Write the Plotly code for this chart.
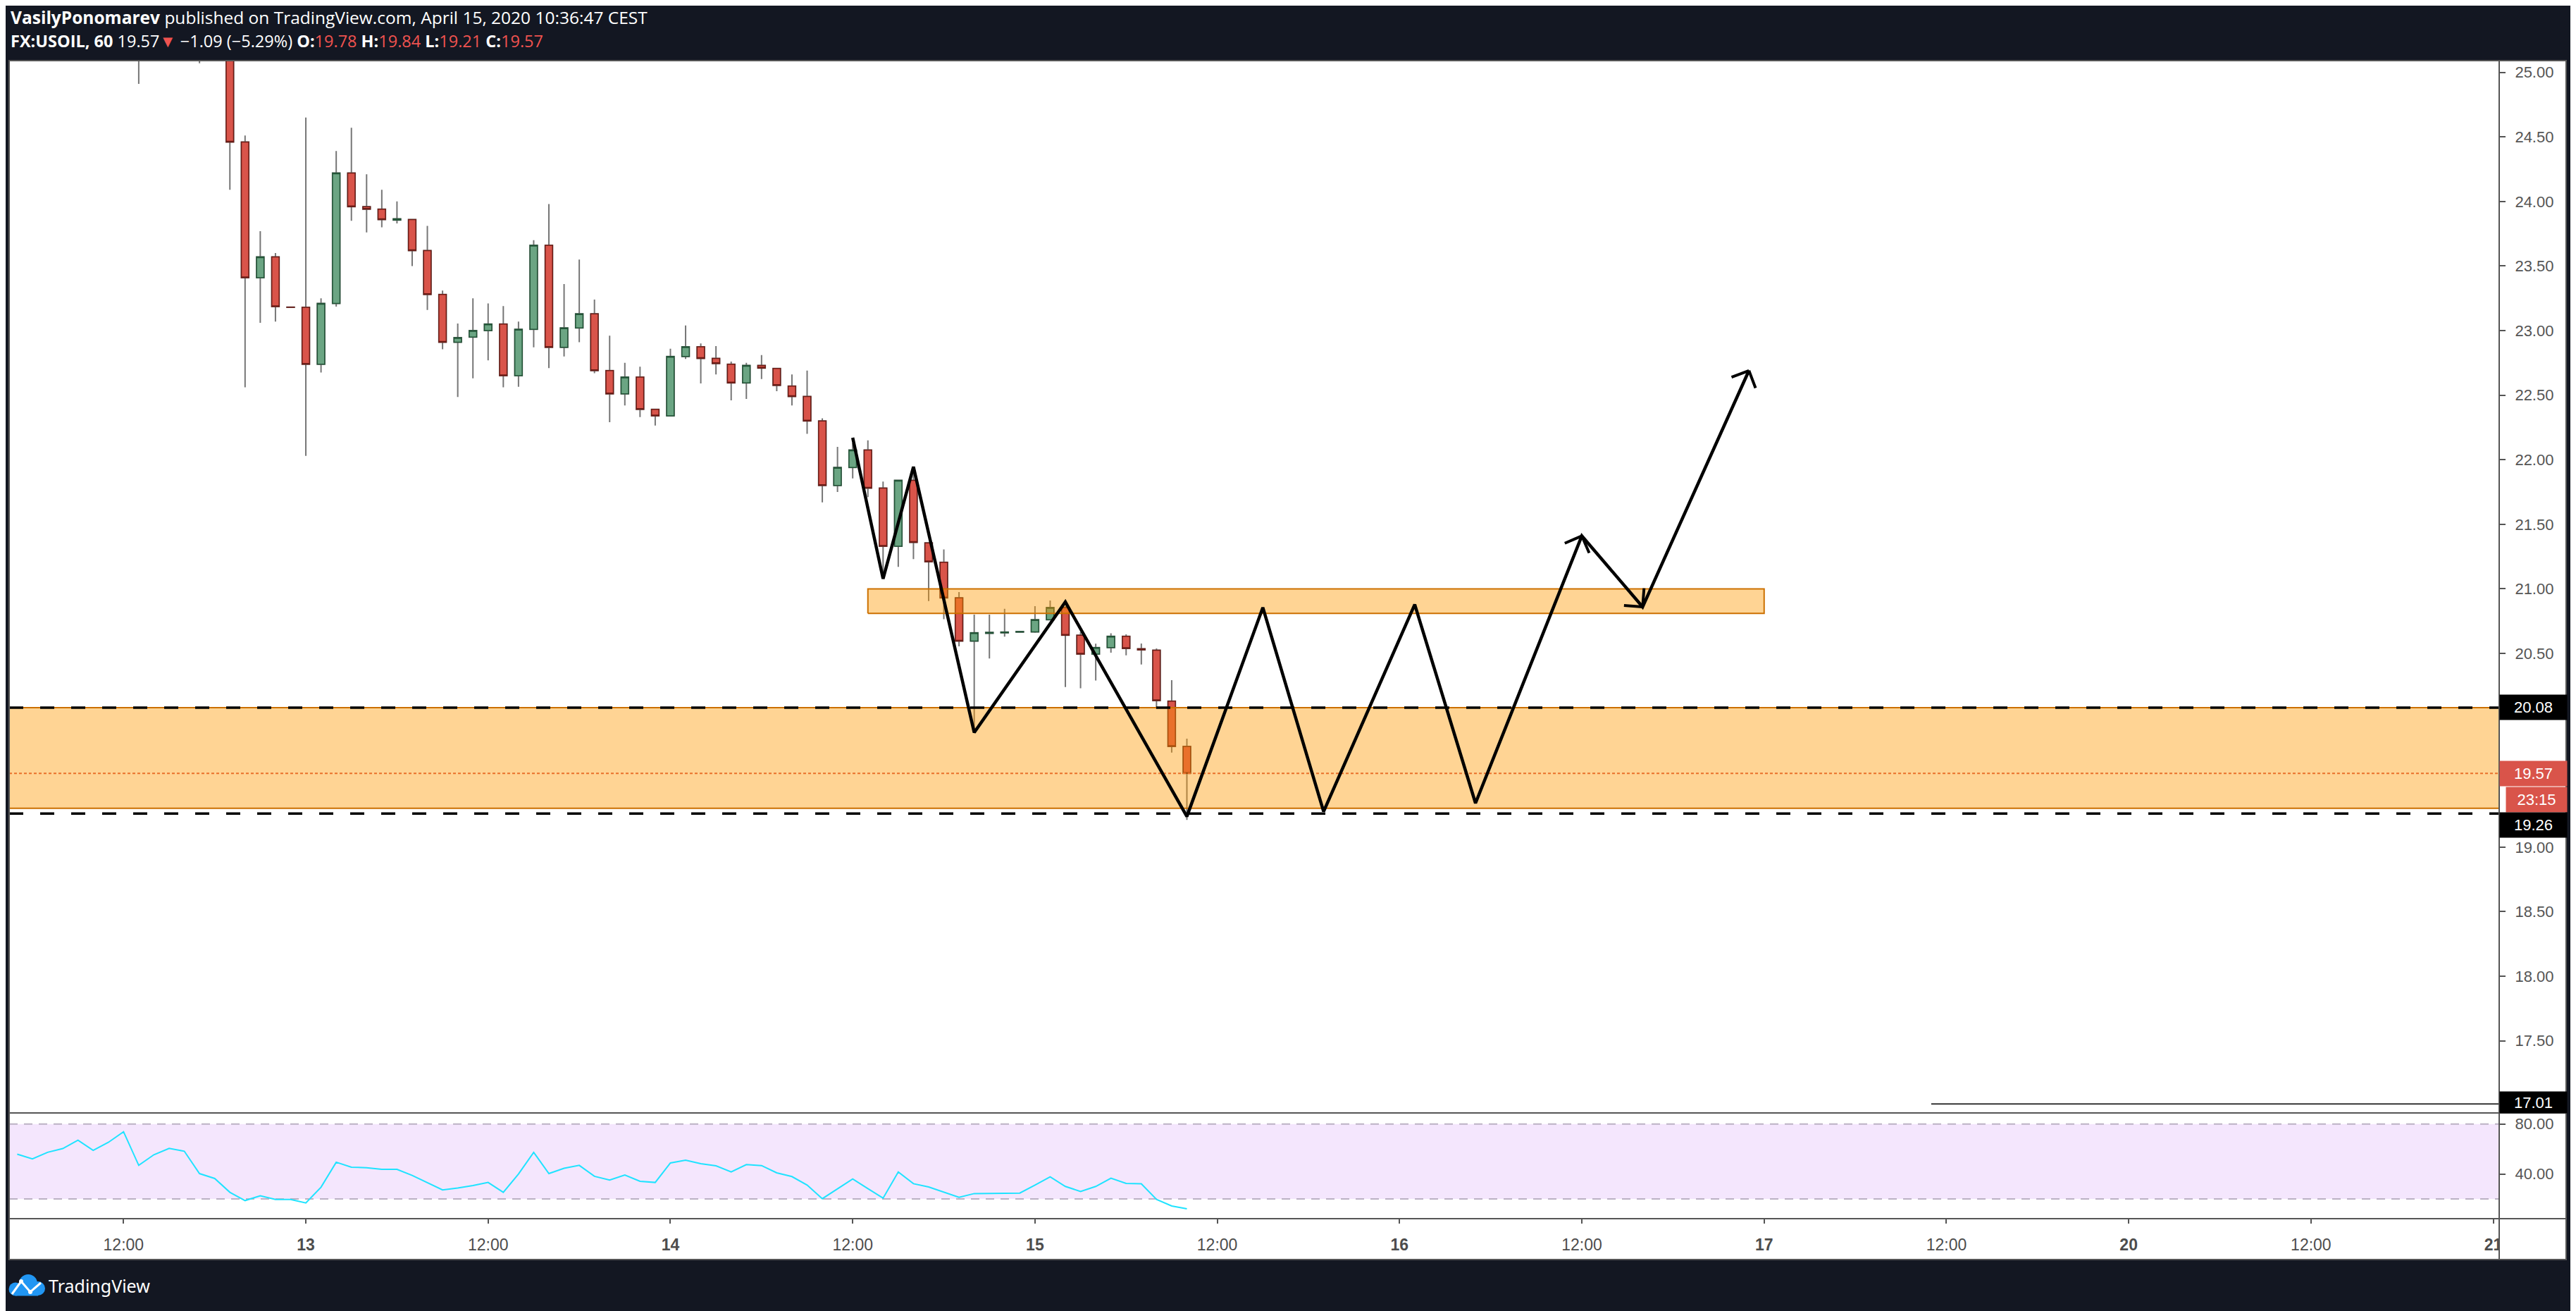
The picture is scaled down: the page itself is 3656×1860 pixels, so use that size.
"""USOIL 1h snapshot with support zones, zigzag projection and RSI pane."""
import math

import plotly.graph_objects as go

# --- page geometry (screen pixels of the snapshot) ---
W, H = 3656, 1860
OFF = 8                                   # default <body> margin of the html page
PL, PR, PT, PB = 13, 3547, 86, 1729       # plot area (both panes)
MAIN_BOTTOM = 1578                        # bottom of the price pane
RSI_TOP = 1580                            # top of the RSI pane
FRAME_R, FRAME_B = 3642, 1787             # right / bottom edge of the white chart card

X_RANGE = [-19.53, 144.39]                # hours from Apr 13 00:00
Y_RANGE = [16.9465, 25.0906]
RSI_RANGE = [4.2, 88.28]

# --- candles, hourly, hour 0 = Apr 13 00:00 ---
candle_hour = list(range(-12, 59))
candle_open = [
    25.90, 26.20, 25.30, 25.60, 25.80, 25.70, 25.35, 25.25, 24.46, 23.41,
    23.57, 23.182, 23.18, 22.74, 23.21, 24.22, 23.96, 23.94, 23.855, 23.86,
    23.62, 23.28, 22.91, 22.95, 23.00, 23.05, 22.65, 23.01, 23.66, 22.87,
    23.02, 23.13, 22.69, 22.51, 22.64, 22.39, 22.34, 22.80, 22.875, 22.785,
    22.74, 22.595, 22.73, 22.707, 22.57, 22.49, 22.30, 21.80, 21.94, 22.075,
    21.78, 21.33, 21.84, 21.355, 21.205, 20.93, 20.595, 20.655, 20.66, 20.665,
    20.666, 20.76, 20.855, 20.64, 20.495, 20.545, 20.633, 20.535, 20.524, 20.13,
    19.78,
]
candle_high = [
    26.40, 26.30, 25.75, 25.90, 25.95, 25.80, 25.45, 25.30, 24.51, 23.77,
    23.60, 23.182, 24.65, 23.25, 24.39, 24.57, 24.21, 24.09, 24.00, 23.865,
    23.81, 23.31, 23.055, 23.25, 23.21, 23.19, 23.07, 23.70, 23.98, 23.36,
    23.55, 23.24, 22.96, 22.75, 22.72, 22.39, 22.86, 23.04, 22.90, 22.88,
    22.76, 22.75, 22.81, 22.71, 22.66, 22.69, 22.32, 22.10, 22.13, 22.15,
    21.83, 21.84, 21.92, 21.36, 21.305, 20.975, 20.80, 20.80, 20.845, 20.67,
    20.866, 20.91, 20.866, 20.665, 20.575, 20.655, 20.647, 20.576, 20.538, 20.293,
    19.84,
]
candle_low = [
    25.80, 24.91, 25.20, 25.50, 25.55, 25.07, 25.15, 24.09, 22.56, 23.06,
    23.07, 23.18, 22.03, 22.675, 23.185, 23.85, 23.76, 23.80, 23.83, 23.50,
    23.16, 22.855, 22.485, 22.63, 22.77, 22.56, 22.565, 22.87, 22.71, 22.80,
    22.91, 22.67, 22.29, 22.42, 22.33, 22.265, 22.34, 22.78, 22.59, 22.66,
    22.46, 22.47, 22.625, 22.53, 22.42, 22.20, 21.67, 21.75, 21.855, 21.71,
    21.08, 21.17, 21.23, 20.905, 20.765, 20.555, 19.89, 20.46, 20.63, 20.665,
    20.66, 20.755, 20.24, 20.23, 20.29, 20.505, 20.485, 20.414, 20.072, 19.732,
    19.21,
]
candle_close = [
    26.20, 25.30, 25.60, 25.80, 25.70, 25.35, 25.25, 24.46, 23.41, 23.57,
    23.185, 23.18, 22.74, 23.21, 24.22, 23.96, 23.94, 23.86, 23.865, 23.62,
    23.28, 22.91, 22.945, 23.00, 23.05, 22.65, 23.01, 23.66, 22.87, 23.02,
    23.13, 22.69, 22.51, 22.64, 22.39, 22.34, 22.80, 22.875, 22.785, 22.745,
    22.595, 22.73, 22.71, 22.575, 22.49, 22.30, 21.80, 21.94, 22.075, 21.78,
    21.33, 21.84, 21.36, 21.21, 20.93, 20.595, 20.66, 20.662, 20.665, 20.669,
    20.76, 20.855, 20.64, 20.495, 20.545, 20.633, 20.538, 20.527, 20.134, 19.779,
    19.57,
]

# --- RSI ---
rsi_hour = list(range(-19, 59))
rsi_value = [
    55.8, 52.0, 57.3, 60.3, 67.0, 58.9, 65.3, 73.8, 46.9, 55.4,
    60.5, 58.2, 40.3, 36.4, 25.3, 18.7, 22.5, 19.6, 19.6, 16.8,
    29.4, 49.4, 45.4, 45.0, 43.7, 43.7, 38.8, 32.8, 27.2, 28.7,
    30.7, 33.2, 25.3, 40.0, 57.3, 40.3, 44.5, 46.9, 38.1, 35.1,
    39.2, 34.1, 33.2, 48.8, 51.0, 48.2, 46.5, 41.6, 47.5, 46.7,
    40.9, 37.9, 31.1, 20.2, 28.1, 36.0, 28.3, 20.6, 41.6, 32.2,
    29.6, 25.5, 21.3, 24.3, 24.3, 24.5, 24.7, 31.1, 37.7, 30.0,
    26.0, 30.0, 36.6, 32.4, 32.1, 19.6, 14.4, 12.1,
]
RSI_BAND = [20, 80]

# --- drawings ---
path_hour = [36, 38, 40, 44, 50, 58, 63, 67, 73, 77, 84, 88, 95]
path_price = [22.17, 21.078, 21.945, 19.887, 20.898, 19.237, 20.855, 19.275,
              20.879, 19.34, 21.41, 20.86, 22.69]
ARROW_TIPS = [10, 11, 12]

zone_low, zone_high = 19.30, 20.08
resist_hour = [37, 96]
resist_low, resist_high = 20.81, 21.00
dashed_levels = [20.08, 19.26]
last_price = 19.57
low_line_hour, low_line_price = 107, 17.01

# price ticks; 20.00 / 19.50 / 17.00 sit under the level labels
price_ticks = [17.5, 18.0, 18.5, 19.0, 20.5, 21.0, 21.5, 22.0, 22.5, 23.0, 23.5, 24.0, 24.5, 25.0]
tick_hours = [-12, 0, 12, 24, 36, 48, 60, 72, 84, 96, 108, 120, 132, 144]
tick_text = ["12:00", "<b>13</b>", "12:00", "<b>14</b>", "12:00", "<b>15</b>", "12:00",
             "<b>16</b>", "12:00", "<b>17</b>", "12:00", "<b>20</b>", "12:00", "<b>21</b>"]

# --- colours ---
BG = "#131722"
AXIS_GREY = "#555555"
WICK = "#767676"
UP_FILL, UP_LINE = "#6ba583", "#225437"
DOWN_FILL, DOWN_LINE = "#d9544a", "#6b1c16"
ZONE_FILL, ZONE_LINE = "rgba(255,152,0,0.42)", "#cc7000"
RED_TXT = "#ef5350"
FONT = "Liberation Sans"


def px_x(px):
    return (px - PL) / (PR - PL)


def px_y(py):
    return (PB - py) / (PB - PT)


fig = go.Figure()

# wicks first (grey), bodies on top so the wick stays grey
fig.add_trace(go.Candlestick(
    x=candle_hour, open=candle_open, high=candle_high, low=candle_low, close=candle_close,
    increasing=dict(line=dict(color=WICK, width=2), fillcolor=WICK),
    decreasing=dict(line=dict(color=WICK, width=2), fillcolor=WICK),
    whiskerwidth=0, hoverinfo="skip", showlegend=False,
))
body_high = [max(o, c) for o, c in zip(candle_open, candle_close)]
body_low = [min(o, c) for o, c in zip(candle_open, candle_close)]
fig.add_trace(go.Candlestick(
    x=candle_hour, open=candle_open, high=body_high, low=body_low, close=candle_close,
    increasing=dict(line=dict(color=UP_LINE, width=1.5), fillcolor=UP_FILL),
    decreasing=dict(line=dict(color=DOWN_LINE, width=1.5), fillcolor=DOWN_FILL),
    whiskerwidth=0, hoverinfo="skip", showlegend=False,
))

# last price line (ends up under the zone fill, like the original)
fig.add_trace(go.Scatter(
    x=X_RANGE, y=[last_price] * 2, mode="lines",
    line=dict(color=DOWN_FILL, width=2, dash="4px,3px"), hoverinfo="skip", showlegend=False,
))

# zones
x0, x1 = X_RANGE
fig.add_trace(go.Scatter(
    x=[x0, x1, x1, x0, x0], y=[zone_low, zone_low, zone_high, zone_high, zone_low],
    mode="lines", fill="toself", fillcolor=ZONE_FILL, line=dict(color=ZONE_LINE, width=2),
    hoverinfo="skip", showlegend=False,
))
r0, r1 = resist_hour
fig.add_trace(go.Scatter(
    x=[r0, r1, r1, r0, r0], y=[resist_low, resist_low, resist_high, resist_high, resist_low],
    mode="lines", fill="toself", fillcolor=ZONE_FILL, line=dict(color=ZONE_LINE, width=2),
    hoverinfo="skip", showlegend=False,
))

for lvl in dashed_levels:
    fig.add_trace(go.Scatter(
        x=X_RANGE, y=[lvl] * 2, mode="lines",
        line=dict(color="black", width=3.5, dash="20px,24px"), hoverinfo="skip", showlegend=False,
    ))

fig.add_trace(go.Scatter(
    x=[low_line_hour, X_RANGE[1]], y=[low_line_price] * 2, mode="lines",
    line=dict(color="black", width=1.5), hoverinfo="skip", showlegend=False,
))

# projected zigzag
fig.add_trace(go.Scatter(
    x=path_hour, y=path_price, mode="lines",
    line=dict(color="black", width=4.5), hoverinfo="skip", showlegend=False,
))

# RSI pane
fig.add_trace(go.Scatter(
    x=rsi_hour, y=rsi_value, mode="lines", xaxis="x2", yaxis="y2",
    line=dict(color="#1fe3ff", width=2), hoverinfo="skip", showlegend=False,
))

shapes = [
    # white chart card behind axes
    dict(type="rect", xref="paper", yref="paper", x0=px_x(PL), x1=px_x(FRAME_R),
         y0=px_y(FRAME_B), y1=px_y(PT), fillcolor="white", line=dict(width=0), layer="below"),
    dict(type="rect", xref="paper", yref="y2", x0=0, x1=1, y0=RSI_BAND[0], y1=RSI_BAND[1],
         fillcolor="#f4e6fd", line=dict(width=0), layer="below"),
]
for lvl in RSI_BAND:
    shapes.append(dict(type="line", xref="paper", yref="y2", x0=0, x1=1, y0=lvl, y1=lvl,
                       line=dict(color="#bcb2c4", width=2, dash="12px,9px"), layer="below"))
# hide overflow in the bottom-right corner cell
shapes.append(dict(type="rect", xref="paper", yref="paper", x0=px_x(PR + 1), x1=px_x(FRAME_R - 1),
                   y0=px_y(FRAME_B - 1), y1=px_y(PB + 1), fillcolor="white", line=dict(width=0),
                   layer="above"))
# frame lines
frame = dict(color=AXIS_GREY, width=2)
shapes += [
    dict(type="rect", xref="paper", yref="paper", x0=px_x(PL), x1=px_x(FRAME_R),
         y0=px_y(FRAME_B), y1=px_y(PT), line=frame, layer="above"),
    dict(type="line", xref="paper", yref="paper", x0=px_x(PL), x1=px_x(FRAME_R),
         y0=px_y(1579), y1=px_y(1579), line=frame, layer="above"),
    dict(type="line", xref="paper", yref="paper", x0=px_x(PL), x1=px_x(FRAME_R),
         y0=px_y(PB), y1=px_y(PB), line=frame, layer="above"),
    dict(type="line", xref="paper", yref="paper", x0=px_x(PR), x1=px_x(PR),
         y0=px_y(FRAME_B), y1=px_y(PT), line=frame, layer="above"),
]

# TradingView logo (small cloud)
LOGO_BLUE = "#2196f3"
lx, ly = px_x(38), px_y(1824)
logo = dict(xref="paper", yref="paper", xsizemode="pixel", ysizemode="pixel",
            xanchor=lx, yanchor=ly, layer="above")
for cx, cy, r in [(2, 3, 13), (-16, -5, 9.5), (16, -4, 10)]:
    shapes.append(dict(type="circle", x0=cx - r, x1=cx + r, y0=cy - r, y1=cy + r,
                       fillcolor=LOGO_BLUE, line=dict(width=0), **logo))
shapes.append(dict(type="rect", x0=-16, x1=16, y0=-14.5, y1=-2,
                   fillcolor=LOGO_BLUE, line=dict(width=0), **logo))
shapes.append(dict(type="path", path="M-21,-12 L-8,6 L5,-9 L20,4",
                   line=dict(color="white", width=3), **logo))
for cx, cy in [(-8, 6), (5, -9)]:
    shapes.append(dict(type="circle", x0=cx - 3, x1=cx + 3, y0=cy - 3, y1=cy + 3,
                       fillcolor="white", line=dict(width=0), **logo))

annotations = [
    dict(xref="paper", yref="paper", x=px_x(13), y=px_y(25), xanchor="left", yanchor="middle",
         showarrow=False, font=dict(family="Open Sans", size=24.5, color="white"),
         text="<b>VasilyPonomarev</b> published on TradingView.com, April 15, 2020 10:36:47 CEST"),
    dict(xref="paper", yref="paper", x=px_x(13), y=px_y(58), xanchor="left", yanchor="middle",
         showarrow=False, font=dict(family="Open Sans", size=23.5, color="white"),
         text=(f"<b>FX:USOIL, 60</b> 19.57<span style='color:{RED_TXT}'>▼</span> −1.09 (−5.29%) "
               f"<b>O:</b><span style='color:{RED_TXT}'>19.78</span> "
               f"<b>H:</b><span style='color:{RED_TXT}'>19.84</span> "
               f"<b>L:</b><span style='color:{RED_TXT}'>19.21</span> "
               f"<b>C:</b><span style='color:{RED_TXT}'>19.57</span>")),
    dict(xref="paper", yref="paper", x=px_x(67), y=px_y(1824), xanchor="left", yanchor="middle",
         showarrow=False, font=dict(family="Noto Sans", size=25, color="white"), text="TradingView"),
]

# right-axis price labels
label_font = dict(family=FONT, size=22, color="white")
for text, val, bg, xshift, yshift, width, height in [
    ("20.08", 20.08, "black", 0, 0, 89, 29),
    ("19.57", last_price, DOWN_FILL, 0, 0, 89, 29),
    ("23:15", last_price, DOWN_FILL, 9, -37, 80, 29),
    ("19.26", 19.26, "black", 0, -16, 89, 29),
    ("17.01", low_line_price, "black", 0, 2, 89, 24),
]:
    annotations.append(dict(
        xref="paper", yref="y", x=1, y=val, xanchor="left", yanchor="middle",
        xshift=xshift, yshift=yshift, showarrow=False, text=text, font=label_font,
        bgcolor=bg, width=width, height=height, borderpad=3, align="center", valign="middle",
    ))

# open arrow heads on the projection
kx = (PR - PL) / (X_RANGE[1] - X_RANGE[0])
ky = (MAIN_BOTTOM - PT) / (Y_RANGE[1] - Y_RANGE[0])
ARM = 28
for i in ARROW_TIPS:
    h1, p1 = path_hour[i], path_price[i]
    h0, p0 = path_hour[i - 1], path_price[i - 1]
    dx, dy = (h0 - h1) * kx, -(p0 - p1) * ky
    n = math.hypot(dx, dy)
    ux, uy = dx / n, dy / n
    for ang in (math.pi / 4, -math.pi / 4):
        c, s = math.cos(ang), math.sin(ang)
        annotations.append(dict(
            xref="x", yref="y", x=h1, y=p1, text="", showarrow=True, arrowhead=0,
            arrowwidth=4, arrowcolor="black", standoff=0, startstandoff=0,
            ax=(ux * c - uy * s) * ARM, ay=(ux * s + uy * c) * ARM,
        ))

tick_font = dict(family=FONT, size=22, color=AXIS_GREY)
main_bottom = (PB - MAIN_BOTTOM) / (PB - PT)
rsi_top = (PB - RSI_TOP) / (PB - PT)

fig.update_layout(
    width=W, height=H, autosize=False,
    # the page's body margin shifts the figure by OFF, so pull the plot area back
    margin=dict(l=PL - OFF, r=W - (PR - OFF), t=PT - OFF, b=H - (PB - OFF), pad=0),
    paper_bgcolor=BG, plot_bgcolor="white",
    showlegend=False,
    xaxis=dict(domain=[0, 1], range=X_RANGE, anchor="y", showticklabels=False, ticks="",
               showgrid=False, zeroline=False, showline=False, rangeslider=dict(visible=False)),
    yaxis=dict(domain=[main_bottom, 1], range=Y_RANGE, anchor="x", side="right",
               tickmode="array", tickvals=price_ticks, tickformat=".2f",
               ticks="outside", ticklen=8, tickwidth=2,
               tickcolor=AXIS_GREY, tickfont=tick_font, ticklabelstandoff=9,
               showgrid=False, zeroline=False, showline=False),
    xaxis2=dict(domain=[0, 1], range=X_RANGE, anchor="y2", matches="x",
                tickmode="array", tickvals=tick_hours, ticktext=tick_text,
                ticks="outside", ticklen=6, tickwidth=2, tickcolor=AXIS_GREY,
                tickfont=dict(family=FONT, size=23, color="#4d4d4d"), ticklabelstandoff=10,
                showgrid=False, zeroline=False, showline=False, rangeslider=dict(visible=False)),
    yaxis2=dict(domain=[0, rsi_top], range=RSI_RANGE, anchor="x2", side="right",
                tickmode="array", tickvals=[40, 80], ticktext=["40.00", "80.00"],
                ticks="outside", ticklen=8, tickwidth=2, tickcolor=AXIS_GREY,
                tickfont=tick_font, ticklabelstandoff=9,
                showgrid=False, zeroline=False, showline=False),
    shapes=shapes,
    annotations=annotations,
)

fig.write_html("out.html")
